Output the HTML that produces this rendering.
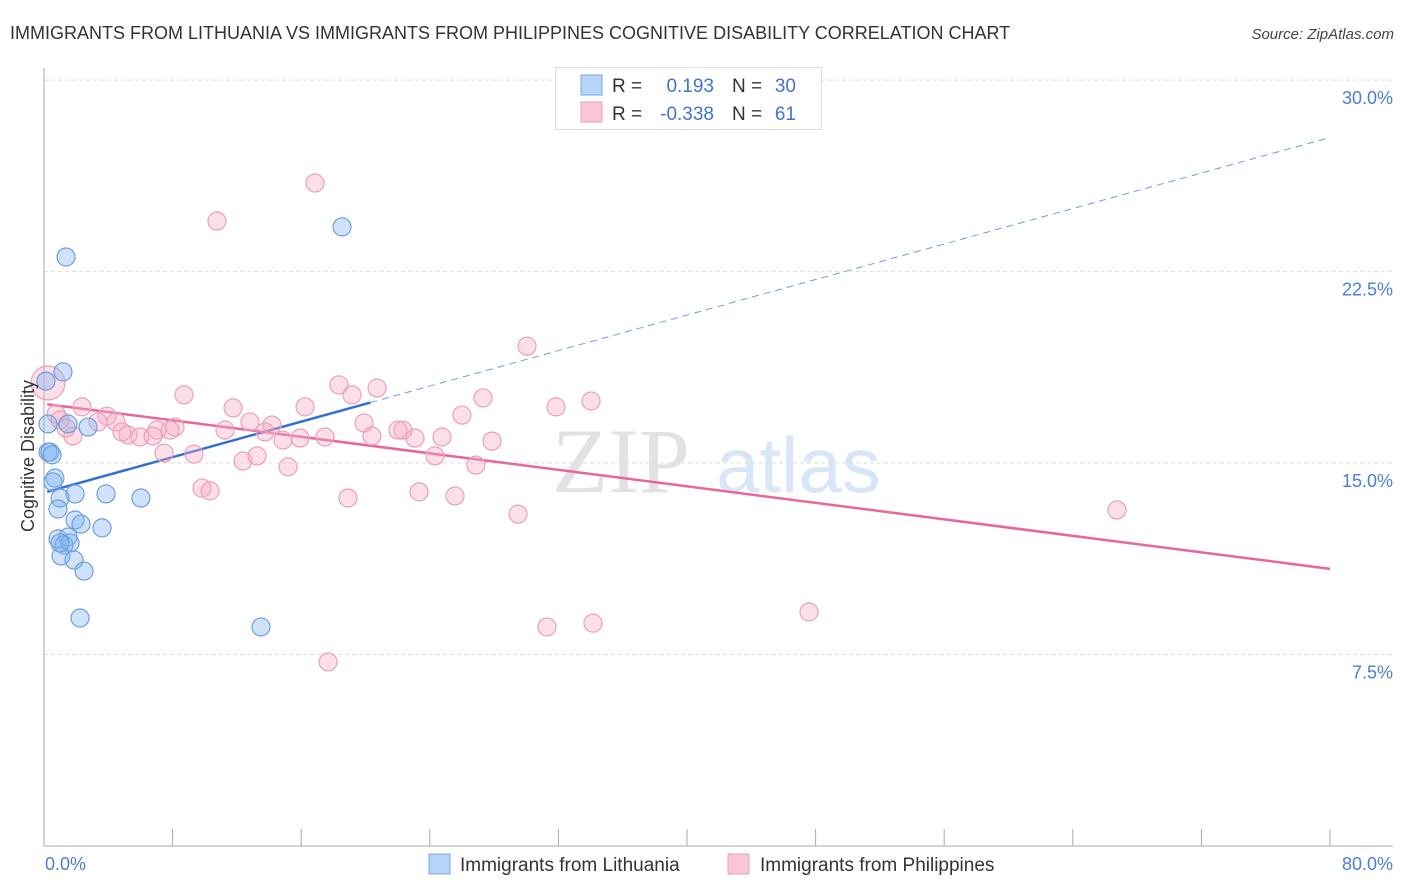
<!DOCTYPE html>
<html><head><meta charset="utf-8">
<style>
body{margin:0;background:#fff;font-family:"Liberation Sans",sans-serif;}
#wrap{position:relative;width:1406px;height:892px;overflow:hidden;}
</style></head>
<body>
<div id="wrap">
<svg id="chart" width="1406" height="892" xmlns="http://www.w3.org/2000/svg">
  <text x="10" y="39" font-size="18" fill="#333">IMMIGRANTS FROM LITHUANIA VS IMMIGRANTS FROM PHILIPPINES COGNITIVE DISABILITY CORRELATION CHART</text>
  <text x="1394" y="39" font-size="15" font-style="italic" fill="#444" text-anchor="end">Source: ZipAtlas.com</text>
  <g>
    <text x="552" y="492" font-size="92" font-family="Liberation Serif, serif" fill="#d6d6d6" fill-opacity="0.7">ZIP</text>
    <text x="716" y="492" font-size="78" fill="#c9dcf3" fill-opacity="0.7">atlas</text>
  </g>
  <g id="grid"></g>
  <g id="axes"></g>
  <g id="trend"></g>
  <g id="pts"></g>
  <text x="34" y="456" font-size="18" fill="#333" text-anchor="middle" transform="rotate(-90 34 456)">Cognitive Disability</text>
  <text x="45" y="870" font-size="18" fill="#4a7fd6">0.0%</text>
  <text x="1393" y="870" font-size="18" fill="#4a7fd6" text-anchor="end">80.0%</text>
  <g>
    <rect x="555.5" y="67.5" width="266" height="62" fill="#fff" stroke="#ddd"/>
    <rect x="581" y="75" width="21" height="20" fill="#b7d3f6" stroke="#7aa9e6"/>
    <rect x="581" y="102" width="21" height="20" fill="#f9c6d5" stroke="#eba0b8"/>
    <text x="612" y="92" font-size="19" fill="#333">R =</text>
    <text x="714" y="92" font-size="19" fill="#3f74d1" text-anchor="end">0.193</text>
    <text x="732" y="92" font-size="19" fill="#333">N =</text>
    <text x="796" y="92" font-size="19" fill="#3f74d1" text-anchor="end">30</text>
    <text x="612" y="120" font-size="19" fill="#333">R =</text>
    <text x="714" y="120" font-size="19" fill="#3f74d1" text-anchor="end">-0.338</text>
    <text x="732" y="120" font-size="19" fill="#333">N =</text>
    <text x="796" y="120" font-size="19" fill="#3f74d1" text-anchor="end">61</text>
  </g>
  <g>
    <rect x="429" y="854" width="21" height="20" fill="#b7d3f6" stroke="#7aa9e6"/>
    <text x="460" y="871" font-size="19" fill="#333">Immigrants from Lithuania</text>
    <rect x="728" y="854" width="21" height="20" fill="#f9c6d5" stroke="#eba0b8"/>
    <text x="760" y="871" font-size="19" fill="#333">Immigrants from Philippines</text>
  </g>
</svg>
</div>
<script>
const yTicks = [7.5, 15, 22.5, 30];
const yTickLabels = ["7.5%", "15.0%", "22.5%", "30.0%"];
const xTicks = [0, 8, 16, 24, 32, 40, 48, 56, 64, 72, 80];
const blueX = [1.37,18.54,1.18,0.25,1.49,2.74,0.25,0.37,0.68,0.56,1.93,3.86,6.03,1.0,0.87,1.93,2.30,3.61,0.87,1.49,1.62,1.24,1.06,1.87,2.49,2.24,13.50,0.12,1.0,0.5];
const blueY = [23.07,24.25,18.57,16.53,16.53,16.41,15.43,15.43,14.41,14.26,13.79,13.79,13.63,13.63,13.2,12.77,12.61,12.46,12.03,12.10,11.87,11.79,11.36,11.20,10.77,8.93,8.58,18.21,11.87,15.32];
const pinkX = [0.25,16.86,10.76,30.05,8.71,18.35,19.16,20.72,27.31,34.03,31.85,26.0,2.36,0.75,3.92,11.76,16.24,19.91,22.33,3.36,4.48,12.81,14.18,5.23,5.97,4.85,7.03,8.15,6.78,7.84,11.26,13.75,14.87,15.93,17.48,20.40,22.02,23.08,24.76,27.87,1.80,7.47,9.33,12.38,13.25,15.18,24.32,26.87,9.83,10.33,18.91,23.33,25.57,29.49,66.75,31.29,34.15,47.59,17.67,1.0,1.37];
const pinkY = [18.14,25.97,24.48,19.58,17.67,18.06,17.67,17.94,17.55,17.43,17.20,16.88,17.20,16.92,16.84,17.16,17.20,16.57,16.29,16.61,16.61,16.61,16.49,16.10,16.02,16.22,16.29,16.41,16.06,16.29,16.29,16.22,15.90,15.98,16.02,16.06,16.29,15.98,16.02,15.86,16.06,15.39,15.35,15.08,15.28,14.85,15.28,14.92,14.02,13.91,13.63,13.87,13.71,13.00,13.16,8.58,8.73,9.17,7.21,16.69,16.37];
const blueTrend = [13.84, 0.1739];   // intercept, slope
const pinkTrend = [17.32, -0.0808];

const NS = "http://www.w3.org/2000/svg";
const X = v => 44 + v * 16.075;
const Y = v => 846 - v * 25.53;
function mk(tag, attrs, parent){const e=document.createElementNS(NS,tag);for(const k in attrs)e.setAttribute(k,attrs[k]);parent.appendChild(e);return e;}
const grid=document.getElementById('grid'), axes=document.getElementById('axes'), trend=document.getElementById('trend'), pts=document.getElementById('pts');

yTicks.forEach((t,i)=>{
  const l=mk('line',{x1:44,x2:1393,y1:Y(t),y2:Y(t),stroke:'#ddd','stroke-dasharray':'4,3'},grid);
  
  
  const tx=mk('text',{x:1393,y:Y(t)+24,'font-size':18,fill:'#4a7fd6','text-anchor':'end'},grid);
  tx.textContent=yTickLabels[i];
  
  
});
const ya=mk('line',{x1:44,x2:44,y1:68,y2:846,stroke:'#aaa'},axes);


const xa=mk('line',{x1:44,x2:1393,y1:846,y2:846,stroke:'#aaa'},axes);


xTicks.forEach(t=>{
  const l=mk('line',{x1:X(t),x2:X(t),y1:829,y2:846,stroke:'#aaa'},axes);
  
  
});

function drawPts(xs,ys,fill,stroke,name){
  xs.forEach((x,i)=>{
    const r = (name==='pink-point' && i===0) ? 17 : 9;
    const c=mk('circle',{cx:X(x),cy:Y(ys[i]),r:r,fill:fill,stroke:stroke,'stroke-width':1.2},pts);
    
    
  });
}
drawPts(pinkX,pinkY,'rgba(246,170,195,0.38)','#eaa0b9','pink-point');
drawPts(blueX,blueY,'rgba(130,178,238,0.38)','#6c9fe0','blue-point');

const bx0=0.2,bx1=20.3,bx2=79.9;
const b1=mk('line',{x1:X(bx0),y1:Y(blueTrend[0]+blueTrend[1]*bx0),x2:X(bx1),y2:Y(blueTrend[0]+blueTrend[1]*bx1),stroke:'#2f6fd6','stroke-width':2.5},trend);


const b2=mk('line',{x1:X(bx1),y1:Y(blueTrend[0]+blueTrend[1]*bx1),x2:X(bx2),y2:Y(blueTrend[0]+blueTrend[1]*bx2),stroke:'#6c9fe0','stroke-width':1,'stroke-dasharray':'7,5'},trend);


const p1=mk('line',{x1:X(0.2),y1:Y(pinkTrend[0]+pinkTrend[1]*0.2),x2:X(80),y2:Y(pinkTrend[0]+pinkTrend[1]*80),stroke:'#e8669a','stroke-width':2.5},trend);


</script>
</body></html>
